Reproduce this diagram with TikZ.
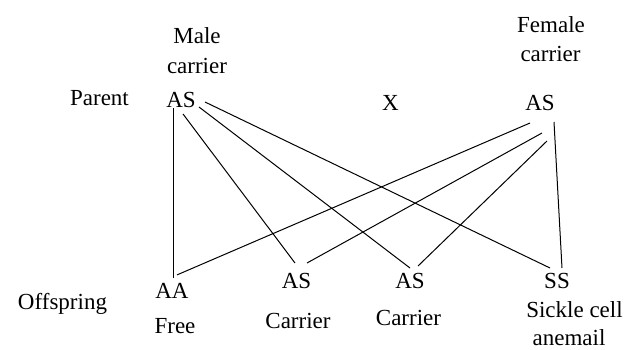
\documentclass[tikz,border=0pt]{standalone}
\usepackage{fontspec}
\setmainfont{Liberation Serif}
\usetikzlibrary{positioning}
\usetikzlibrary{calc}

\begin{document}
\begin{tikzpicture}[x=1pt,y=-1pt,line width=1pt]
                \tikzset{gene/.style={anchor=base,inner sep=1pt,font=\fontsize{23}{29}\selectfont},
                         word/.style={anchor=base,inner sep=0pt,font=\fontsize{23}{29}\selectfont}}
                \useasboundingbox (0,0) rectangle (635,349);

                % Parents and offspring genotypes
                \node[gene] (male) at (181,107) {AS};
                \node[gene] (female) at (540,110) {AS};
                \node[word] (cross) at (390.5,110) {X};
                \node[gene] (aa) at (172,298) {AA};
                \node[gene] (as2) at (296.5,288) {AS};
                \node[gene] (as3) at (410,288) {AS};
                \node[gene] (ss) at (557,288) {SS};

                % Text around them
                \node[word] (malet) at (197,43) {Male};
                \node[word] (maleb) at (197,73) {carrier};
                \node[word] (femalet) at (551,32) {Female};
                \node[word] (femaleb) at (550.5,61) {carrier};
                \node[word] (parent) at (99.5,105) {Parent};
                \node[word] (offspring) at (62.5,309) {Offspring};
                \node[word] (free) at (175,333) {Free};
                \node[word] (carrier2) at (298,328) {Carrier};
                \node[word] (carrier3) at (408.5,325) {Carrier};
                \node[word] (sicklet) at (574.5,317) {Sickle cell};
                \node[word] (sickleb) at (569,345) {anemail};

                % Lines from the male carrier
                \draw ($(male)+(-8,8.5)$) -- ($(aa)+(1,-12.5)$);
                \draw ($(male)+(2,14.5)$) -- ($(as2)+(-1.5,-17.5)$);
                \draw ($(male)+(18,7.5)$) -- ($(as3)+(0,-12.5)$);
                \draw ($(male)+(24,2.5)$) -- ($(ss)+(-7,-12.5)$);

                % Lines from the female carrier
                \draw ($(female)+(-10,20.5)$) -- ($(aa)+(5,-15.5)$);
                \draw ($(female)+(2,30.5)$) -- ($(as2)+(10.5,-17.5)$);
                \draw ($(female)+(7,38.5)$) -- ($(as3)+(8,-14.5)$);
                \draw ($(female)+(14,19.5)$) -- ($(ss)+(5,-12.5)$);
\end{tikzpicture}
\end{document}
